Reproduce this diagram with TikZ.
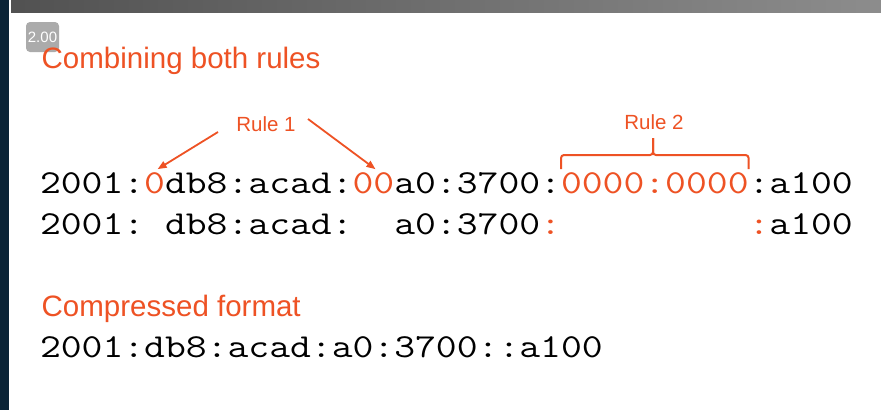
\documentclass[tikz,border=0pt]{standalone}
\usepackage{fontspec}
\usepackage{graphicx}
\usepackage{tikz}
\usetikzlibrary{arrows.meta}
\setmainfont{Liberation Sans}
\definecolor{rulered}{RGB}{238,82,36}
\definecolor{slidenavy}{RGB}{10,35,54}
\newcommand{\blankch}{\phantom{0}}
\newcommand{\addr}[1]{\scalebox{1.208}[1]{#1}}

\begin{document}
\begin{tikzpicture}[x=1pt, y=-1pt,
        seg/.style={inner sep=0pt, outer sep=0pt, anchor=base west,
                    font=\ttfamily\fontsize{33.5}{40}\selectfont},
        hl/.style={text=rulered},
        head/.style={inner sep=0pt, anchor=base west, text=rulered,
                     font=\fontsize{29.5}{34}\selectfont},
        tag/.style={inner sep=0pt, anchor=base, text=rulered,
                    font=\fontsize{20.5}{24}\selectfont},
        ptr/.style={draw=rulered, line width=1.8pt, -{Triangle[length=9pt, width=7pt]}},
        brk/.style={draw=rulered, line width=2pt, rounded corners=3pt}]
            \useasboundingbox[fill=white] (0, 0) rectangle (881, 410);
            \fill[slidenavy] (0, 0) rectangle (9, 410);
            \shade[left color=black!68, right color=black!45] (11, 0) rectangle (881, 12);
            \node[fill=black!33, text=white, rounded corners=4pt, minimum width=33pt,
                  minimum height=30pt, inner sep=0pt, font=\fontsize{15}{17}\selectfont]
                  (speed) at (42.5, 37) {2.00};
            \node[head] (title) at (41.5, 68) {Combining both rules};
            \node[seg] (r1a) at (40, 193) {\addr{2001:}};
            \node[seg, hl] (r1z) at (r1a.base east) {\addr{0}};
            \node[seg] (r1b) at (r1z.base east) {\addr{db8:acad:}};
            \node[seg, hl] (r1zz) at (r1b.base east) {\addr{00}};
            \node[seg] (r1c) at (r1zz.base east) {\addr{a0:3700:}};
            \node[seg, hl] (r1run) at (r1c.base east) {\addr{0000:0000}};
            \node[seg] (r1d) at (r1run.base east) {\addr{:a100}};
            \node[seg] (r2) at (40, 234)
                {\addr{2001:\blankch db8:acad:\blankch\blankch a0:3700\textcolor{rulered}{:}\blankch\blankch\blankch\blankch\blankch\blankch\blankch\blankch\blankch\textcolor{rulered}{:}a100}};
            \node[tag] (rule1) at (266, 131) {Rule 1};
            \coordinate (t1) at (218, 132);
            \coordinate (t2) at (308, 119);
            \draw[ptr] (t1) -- ([xshift=3pt, yshift=3pt]r1z.north);
            \draw[ptr] (t2) -- ([xshift=2pt, yshift=3pt]r1zz.north);
            \node[tag] (rule2) at (654, 129) {Rule 2};
            \draw[brk] (r1run.west |- 0, 169) |- (653, 155) -- (653, 138);
            \draw[brk] (r1run.east |- 0, 169) |- (653, 155) -- (653, 138);
            \node[head] (compr) at (41.5, 316) {Compressed format};
            \node[seg] (r3) at (40, 357) {\addr{2001:db8:acad:a0:3700::a100}};
    \end{tikzpicture}
\end{document}
